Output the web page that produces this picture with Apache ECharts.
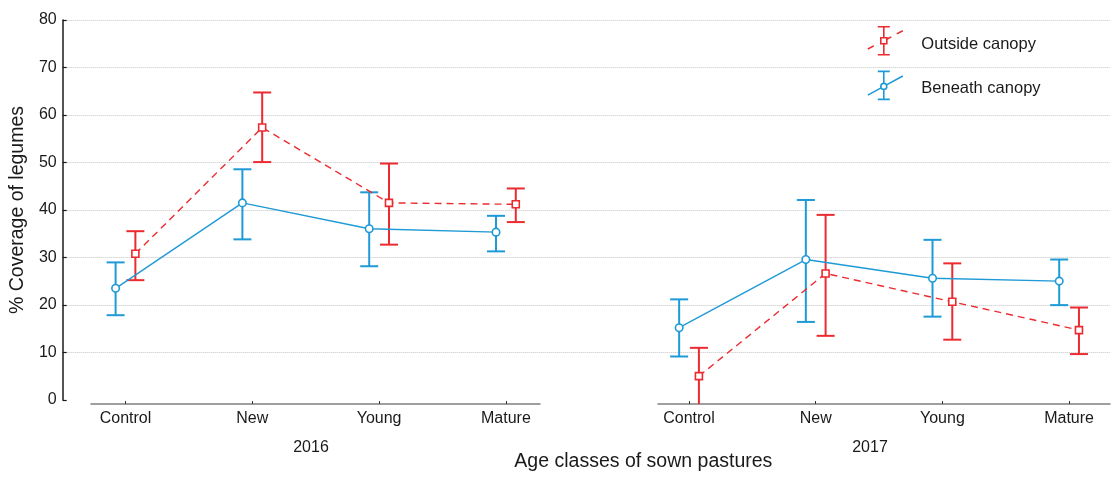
<!DOCTYPE html>
<html>
<head>
<meta charset="utf-8">
<script src="https://cdn.jsdelivr.net/npm/echarts@6/dist/echarts.min.js"></script>
<style>
html,body{margin:0;padding:0;background:#fff;}
#chart{width:1113px;height:477px;}
</style>
</head>
<body>
<div id="chart"></div>
<script>
// ---- data ----
const categories = ['Control', 'New', 'Young', 'Mature'];
const years = ['2016', '2017'];
const seriesNames = ['Outside canopy', 'Beneath canopy'];
const yTickValues = [0, 10, 20, 30, 40, 50, 60, 70, 80];

const outside2016Mean = [31.3, 57.6, 41.9, 41.6];
const outside2016Low  = [25.8, 50.4, 33.2, 37.9];
const outside2016High = [36.0, 64.9, 50.1, 44.9];

const beneath2016Mean = [24.1, 41.9, 36.5, 35.8];
const beneath2016Low  = [18.5, 34.3, 28.7, 31.8];
const beneath2016High = [29.5, 48.9, 44.1, 39.2];

const outside2017Mean = [5.8, 27.2, 21.3, 15.4];
const outside2017Low  = [-0.2, 14.2, 13.4, 10.4];
const outside2017High = [11.7, 39.4, 29.3, 20.1];

const beneath2017Mean = [15.9, 30.1, 26.2, 25.6];
const beneath2017Low  = [9.9, 17.1, 18.2, 20.6];
const beneath2017High = [21.8, 42.5, 34.2, 30.1];

// ---- styling ----
const RED = '#ec2b30';
const BLUE = '#1e9ad6';
const FONT = '"Liberation Sans", Arial, sans-serif';
const TXT = '#1a1a1a';

const panels = [
  { year: years[0], grid: { left: 91, width: 449 }, min: -0.272, max: 3.269, namePad: [0, 9, 0, 0],
    groups: [
      { name: seriesNames[0], mean: outside2016Mean, low: outside2016Low, high: outside2016High },
      { name: seriesNames[1], mean: beneath2016Mean, low: beneath2016Low, high: beneath2016High }
    ] },
  { year: years[1], grid: { left: 658, width: 452 }, min: -0.245, max: 3.323, namePad: [0, 28, 0, 0],
    groups: [
      { name: seriesNames[0], mean: outside2017Mean, low: outside2017Low, high: outside2017High },
      { name: seriesNames[1], mean: beneath2017Mean, low: beneath2017Low, high: beneath2017High }
    ] }
];

const groupStyle = {
  'Outside canopy': { color: RED, dodge: 0.078, symbol: 'rect', dash: [7, 5] },
  'Beneath canopy': { color: BLUE, dodge: -0.078, symbol: 'circle', dash: 'solid' }
};

const tickIdx = categories.map((c, i) => i);

const grids = [{ left: 62, top: 20, width: 1048, height: 384 }];
const xAxes = [{
  gridIndex: 0, type: 'value', min: 0, max: 1,
  axisLine: { show: false }, axisTick: { show: false }, axisLabel: { show: false }, splitLine: { show: false },
  name: 'Age classes of sown pastures', nameLocation: 'middle', nameGap: 52,
  nameTextStyle: { fontFamily: FONT, fontSize: 19.5, color: TXT, padding: [0, 0, 0, 114] }
}];
const yAxes = [{
  gridIndex: 0, type: 'value', min: yTickValues[0], max: yTickValues[yTickValues.length - 1],
  interval: yTickValues[1] - yTickValues[0],
  axisLine: { show: true, lineStyle: { color: '#1a1a1a', width: 1.5 } },
  axisTick: { show: true, inside: true, length: 4, lineStyle: { color: '#1a1a1a', width: 1.2 } },
  axisLabel: { fontFamily: FONT, fontSize: 16, color: TXT, margin: 6 },
  splitLine: { show: true, showMinLine: false, lineStyle: { color: '#c4c4c4', type: 'dotted', width: 1 } },
  name: '% Coverage of legumes', nameLocation: 'middle', nameGap: 26,
  nameTextStyle: { fontFamily: FONT, fontSize: 19.5, color: TXT }
}];

const errorSeries = [];
const lineSeries = [];

panels.forEach((p, pi) => {
  const gi = pi + 1;
  grids.push({ left: p.grid.left, width: p.grid.width, top: 20, height: 384 });
  xAxes.push({
    gridIndex: gi, type: 'value', min: p.min, max: p.max,
    axisLine: { show: true, onZero: false, lineStyle: { color: '#808080', width: 1.5 } },
    axisTick: { show: true, customValues: tickIdx, inside: true, length: 3, lineStyle: { color: '#333', width: 1 } },
    axisLabel: { show: true, customValues: tickIdx, formatter: v => categories[Math.round(v)],
      fontFamily: FONT, fontSize: 16, color: TXT, margin: 7 },
    splitLine: { show: false },
    name: p.year, nameLocation: 'middle', nameGap: 35.5,
    nameTextStyle: { fontFamily: FONT, fontSize: 16, color: TXT, padding: p.namePad }
  });
  yAxes.push({
    gridIndex: gi, type: 'value', min: yTickValues[0], max: yTickValues[yTickValues.length - 1], show: false
  });

  p.groups.forEach(g => {
    const st = groupStyle[g.name];
    const xs = categories.map((c, i) => i + st.dodge);
    errorSeries.push({
      type: 'custom', name: g.name, xAxisIndex: gi, yAxisIndex: gi,
      encode: { x: 0, y: 1 },
      data: categories.map((c, i) => [xs[i], g.mean[i], g.low[i], g.high[i]]),
      itemStyle: { color: st.color },
      silent: true,
      renderItem: function (params, api) {
        const x = api.value(0);
        const lo = api.value(2), hi = api.value(3);
        const top = api.coord([x, hi]);
        const bot = api.coord([x, Math.max(lo, 0)]);
        const hw = 9;
        const s = { stroke: st.color, lineWidth: 2, fill: null };
        const children = [
          { type: 'line', shape: { x1: top[0], y1: top[1], x2: bot[0], y2: bot[1] }, style: s },
          { type: 'line', shape: { x1: top[0] - hw, y1: top[1], x2: top[0] + hw, y2: top[1] }, style: s }
        ];
        if (lo >= 0) {
          children.push({ type: 'line', shape: { x1: bot[0] - hw, y1: bot[1], x2: bot[0] + hw, y2: bot[1] }, style: s });
        }
        return { type: 'group', children: children };
      }
    });
    lineSeries.push({
      type: 'line', name: g.name, xAxisIndex: gi, yAxisIndex: gi,
      data: categories.map((c, i) => [xs[i], g.mean[i]]),
      symbol: st.symbol, symbolSize: st.symbol === 'rect' ? 7 : 7.5,
      itemStyle: { color: '#fff', borderColor: st.color, borderWidth: 1.6 },
      lineStyle: { color: st.color, width: 1.4, type: st.dash },
      clip: false, silent: true, z: 3
    });
  });
});

const redIcon = 'path://M10 0 H22 M16 0 V11 M16 17 V28 M10 28 H22 M13 11 H19 V17 H13 Z M0 22.2 L6 19.1 M19.5 12.2 L23.5 10.1 M29 7.1 L35 4';
const blueIcon = 'path://M10 0 H22 M16 0 V12 M16 18 V28 M10 28 H22 M19 15 A3 3 0 1 1 13 15 A3 3 0 1 1 19 15 Z M0 23.7 L13.3 16.5 M18.7 13.5 L35 4.6';

const chart = echarts.init(document.getElementById('chart'), null, { renderer: 'canvas' });
chart.setOption({
  animation: false,
  backgroundColor: '#fff',
  grid: grids,
  xAxis: xAxes,
  yAxis: yAxes,
  legend: {
    orient: 'vertical', left: 867, top: 26, padding: 0, itemWidth: 62, itemHeight: 28, itemGap: 15,
    selectedMode: false,
    formatter: name => '{t|' + name + '}',
    textStyle: { fontFamily: FONT, fontSize: 16.5, color: TXT,
      rich: { t: { fontFamily: FONT, fontSize: 16.5, color: TXT, padding: [7, 0, 0, 0] } } },
    data: [
      { name: seriesNames[0], icon: redIcon, itemStyle: { color: 'rgba(0,0,0,0)', borderColor: RED, borderWidth: 1.6 } },
      { name: seriesNames[1], icon: blueIcon, itemStyle: { color: 'rgba(0,0,0,0)', borderColor: BLUE, borderWidth: 1.6 } }
    ]
  },
  series: errorSeries.concat(lineSeries)
});
</script>
</body>
</html>
